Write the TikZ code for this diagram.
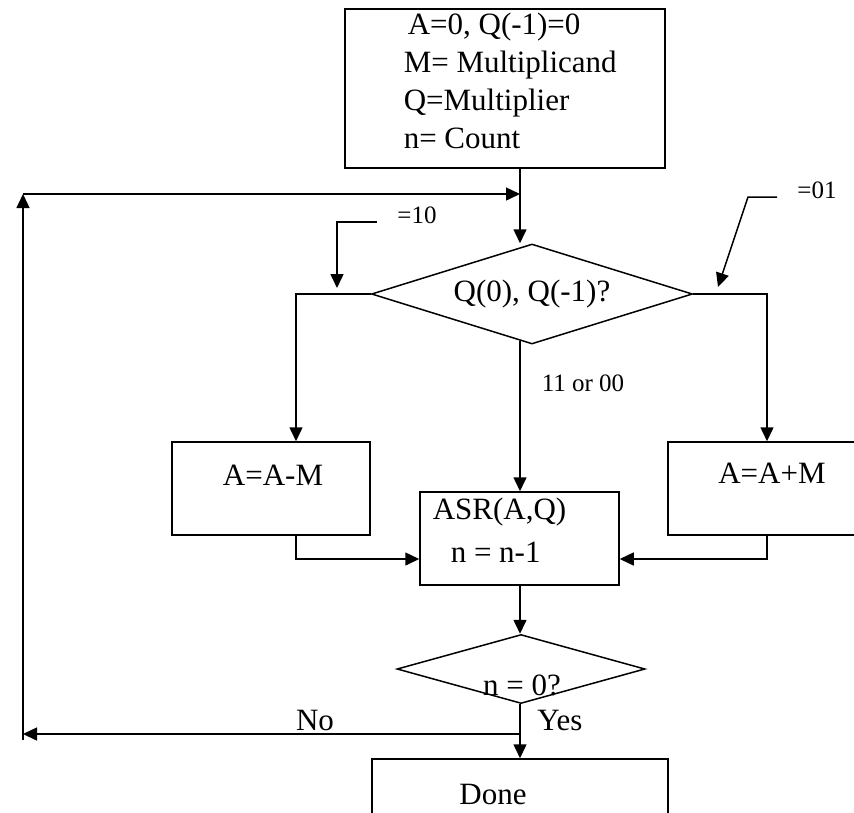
\documentclass[tikz,border=0pt]{standalone}
\usepackage{fontspec}
\setmainfont{Liberation Serif}
\usetikzlibrary{shapes.geometric,arrows.meta,calc}
\begin{document}
\begin{tikzpicture}[x=1pt,y=-1pt,
  line width=1.5pt,
  arr/.style={-{Triangle[length=14pt,width=13pt]}},
  box/.style={draw,rectangle,inner sep=0pt},
  dia/.style={draw,diamond,inner sep=0pt},
  txt/.style={inner sep=0pt,font=\fontsize{31}{38}\selectfont},
  lbl/.style={inner sep=0pt,font=\fontsize{25}{30}\selectfont}]
\useasboundingbox (0,0) rectangle (854,812);

% guide coordinates for the connector routes
\coordinate (spine) at (520,0);
\coordinate (loopL) at (23,0);
\coordinate (topRow) at (0,194);
\coordinate (noRow) at (0,734);
\coordinate (mergeRow) at (0,559);
\coordinate (subDrop) at (296,0);

% initialisation box
\node[box,minimum width=320pt,minimum height=159pt] (init) at (505,88.5) {};
\node[txt,anchor=west,align=left] (initText) at (403,81)
  {\hspace*{4pt}A=0, Q(-1)=0\\M= Multiplicand\\Q=Multiplier\\n= Count};

% decision on the two low bits
\node[dia,aspect=3.2,minimum width=321pt,minimum height=100pt,
      font=\fontsize{31}{38}\selectfont] (d1) at (532,294) {Q(0), Q(-1)?};

% add / subtract boxes
\node[box,minimum width=198pt,minimum height=93pt] (sub) at (271,488.5) {};
\node[txt] (subText) at (273,475) {A=A-M};
\node[box,minimum width=198pt,minimum height=93pt] (add) at (767,488.5) {};
\node[txt] (addText) at (772,473) {A=A+M};

% shift box
\node[box,minimum width=199pt,minimum height=93pt] (asr) at (519.5,538.5) {};
\node[txt,anchor=west] (asrText) at (432,512) {ASR(A,Q)};
\node[txt,anchor=west] (decText) at (450,552) {n = n-1};

% count test
\node[dia,aspect=3.6,minimum width=248pt,minimum height=69pt] (d2) at (521,669) {};
\node[txt] (d2Text) at (522,685) {n = 0?};

% end box
\node[box,minimum width=296pt,minimum height=120pt] (done) at (520,819) {};
\node[txt] (doneText) at (493,794) {Done};

% branch labels
\node[lbl] (lblTen) at (417,215) {=10};
\node[lbl] (lblOne) at (817,190) {=01};
\node[lbl] (lblMid) at (583,383) {11 or 00};
\node[txt] (lblNo) at (315,720) {No};
\node[txt] (lblYes) at (560,720) {Yes};

% free ends of the case pointers
\coordinate (tenA) at (377,222);
\coordinate (tenB) at (337,288);
\coordinate (oneA) at (777,197);
\coordinate (oneB) at (748,197);
\coordinate (oneC) at (718,287);

% connectors
\draw[arr] (init.south -| spine) -- (spine |- d1.north);
\draw[arr] (d1.west) -| (sub.north -| subDrop);
\draw[arr] (d1.east) -| (add.north);
\draw[arr] (spine |- d1.255.5) -- (spine |- asr.north);
\draw[arr] (sub.south -| subDrop) |- (mergeRow -| asr.west);
\draw[arr] (add.south) |- (mergeRow -| asr.east);
\draw[arr] (asr.south -| spine) -- (spine |- d2.north);
\draw[arr] (d2.south -| spine) -- (spine |- done.north);

% loop back for the next step
\draw[arr] (noRow -| spine) -- (noRow -| loopL);
\draw[arr] ($(noRow -| loopL)+(0,6)$) -- (topRow -| loopL);
\draw[arr] (topRow -| loopL) -- (topRow -| spine);

% case pointers
\draw[arr] (tenA) -| (tenB);
\draw[arr] (oneA) -- (oneB) -- (oneC);
\end{tikzpicture}
\end{document}
